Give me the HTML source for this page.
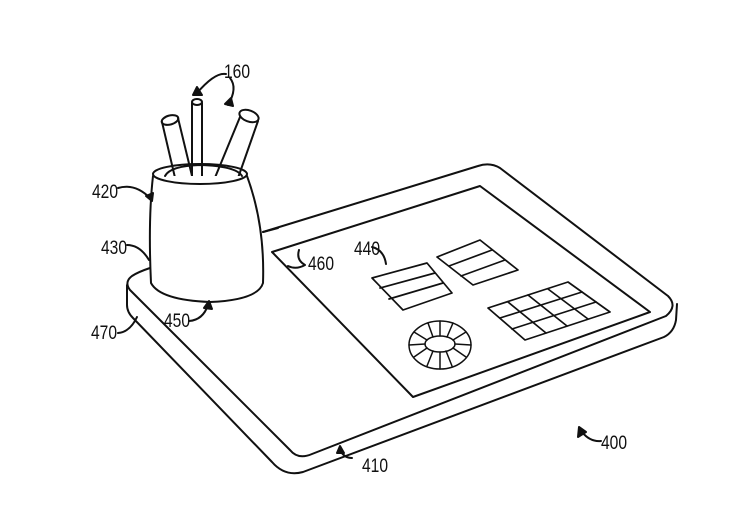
<!DOCTYPE html>
<html><head><style>html,body{margin:0;padding:0;background:#fff}svg{display:block}</style></head>
<body>
<svg width="748" height="510" viewBox="0 0 748 510" xmlns="http://www.w3.org/2000/svg" fill="none" stroke="#111" stroke-width="2" stroke-linejoin="round" stroke-linecap="round">
<path d="M263,232 L478,166 Q490,162 500,168 L668,296 Q678,306 666,316 L312,454 Q298,460 290,450 L130,290 Q124,282 132,276 Q138,272 150,268"/>
<path d="M127,285 L127,305 Q127,312 133,318 L272,462 Q285,477 303,472 L664,337 Q674,332 676,320 L677,304"/>
<path d="M272,252 L480,186 L650,312 L413,397 Z"/>
<path d="M372,278 L427,263 L452,293 L403,310 Z M380,288 L435,273 M389,299 L443,283" stroke-width="1.7"/>
<path d="M437,257 L480,240 L518,270 L473,285 Z M449,266 L492,250 M461,276 L505,260" stroke-width="1.7"/>
<g stroke-width="1.7">
<path d="M488,308 L568,282 L610,312 L525,340 Z"/>
<path d="M500,318 L582,292 M512,329 L596,302 M508,302 L546,333 M528,295 L567,326 M548,289 L588,319"/>
</g>
<g stroke-width="1.5">
<ellipse cx="440" cy="345" rx="31" ry="24"/>
<ellipse cx="440" cy="344" rx="15" ry="8"/>
<path d="M455,344 L471,345 M453,348 L466,357 M446,351 L452,366 M440,352 L440,369 M433,351 L427,366 M427,348 L414,357 M425,344 L409,345 M427,340 L414,332 M433,337 L428,323 M440,336 L440,321 M447,337 L453,323 M453,340 L466,332"/>
</g>
<path d="M162,122 L176,182 M178,118 L193,180"/>
<ellipse cx="170" cy="120" rx="8.5" ry="4.5" transform="rotate(-15 170 120)"/>
<path d="M192,103 L192,184 M202,103 L202,184"/>
<ellipse cx="197" cy="102" rx="5" ry="3"/>
<path d="M240,117 L214,180 M258,121 L238,178"/>
<ellipse cx="249" cy="116" rx="10" ry="5.5" transform="rotate(20 249 116)"/>
<path d="M153,176 Q148,220 151,283 Q160,300 210,302 Q258,300 263,283 Q265,225 247,176" fill="#fff"/>
<ellipse cx="200" cy="174" rx="47" ry="10"/>
<path d="M165,176 Q170,166 200,165 Q236,166 242,176"/>
<path d="M263,232 L278,228"/>
<path d="M197,93 Q215,72 226,74"/>
<path d="M228,105 Q238,88 230,78"/>
<path d="M193,95 L197,87 L202,95 Z" fill="#111"/>
<path d="M225,104 L233,106 L231,98 Z" fill="#111"/>
<path d="M118,188 Q135,183 150,198"/>
<path d="M146,196 L152,201 L153,193 Z" fill="#111"/>
<path d="M127,245 Q140,245 149,260"/>
<path d="M118,333 Q130,332 137,317"/>
<path d="M189,321 Q203,320 208,305"/>
<path d="M204,308 L209,301 L212,309 Z" fill="#111"/>
<path d="M305,265 Q296,260 299,250 M305,265 Q296,270 288,266"/>
<path d="M372,247 Q384,250 386,264"/>
<path d="M352,458 Q344,458 340,450"/>
<path d="M337,453 L340,446 L344,453 Z" fill="#111"/>
<path d="M601,441 Q590,442 582,432"/>
<path d="M578,437 L579,427 L586,432 Z" fill="#111"/>
<g font-family="Liberation Sans, sans-serif" font-size="19" fill="#111" stroke="none">
<text x="224" y="78" textLength="26" lengthAdjust="spacingAndGlyphs">160</text>
<text x="92" y="198" textLength="26" lengthAdjust="spacingAndGlyphs">420</text>
<text x="101" y="254" textLength="26" lengthAdjust="spacingAndGlyphs">430</text>
<text x="91" y="339" textLength="26" lengthAdjust="spacingAndGlyphs">470</text>
<text x="164" y="327" textLength="26" lengthAdjust="spacingAndGlyphs">450</text>
<text x="308" y="270" textLength="26" lengthAdjust="spacingAndGlyphs">460</text>
<text x="354" y="255" textLength="26" lengthAdjust="spacingAndGlyphs">440</text>
<text x="362" y="472" textLength="26" lengthAdjust="spacingAndGlyphs">410</text>
<text x="601" y="449" textLength="26" lengthAdjust="spacingAndGlyphs">400</text>
</g>
</svg>
</body></html>
